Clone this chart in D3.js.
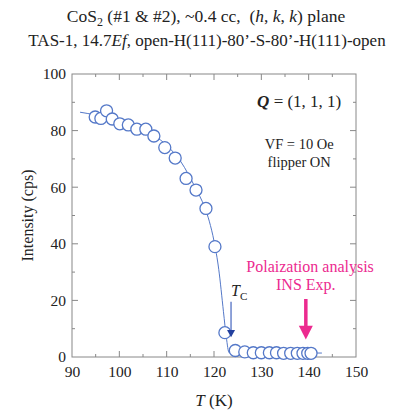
<!DOCTYPE html>
<html>
<head>
<meta charset="utf-8">
<script src="https://cdn.jsdelivr.net/npm/d3@7"></script>
<style>
  body { margin: 0; background: #fff; }
  svg text { font-family: "Liberation Serif", "DejaVu Serif", serif; fill: #222; }
</style>
</head>
<body>
<svg id="chart" width="395" height="412"></svg>
<script>
// measured points: temperature (K) and intensity (cps)
const tempK = [94.9, 96.1, 97.3, 98.5, 100.1, 101.9, 103.7, 105.6, 107.3, 109.6, 111.8, 114.1,
  116.2, 118.3, 120.2, 122.3, 124.5, 126.5, 128.3, 130.0, 131.7, 133.2, 134.7, 136.2, 137.6,
  138.8, 139.8, 140.5];
const intensity = [84.8, 84.3, 87.0, 84.1, 82.4, 82.0, 80.5, 80.5, 78.1, 74.0, 70.3, 63.1,
  59.0, 52.5, 39.0, 8.6, 2.3, 1.8, 1.5, 1.5, 1.5, 1.5, 1.3, 1.3, 1.3, 1.3, 1.3, 1.3];

// guide line
const fitT = [91.7, 95, 100, 105, 110, 113, 116, 118, 119, 120, 121, 122, 122.6, 123.2, 124, 142.8];
const fitI = [86.5, 85.5, 83.3, 80.3, 74.8, 69, 60, 53, 48, 41, 31, 16, 7, 1.5, 1.4, 1.4];

const xTicks = [90, 100, 110, 120, 130, 140, 150];
const yTicks = [0, 20, 40, 60, 80, 100];

const svg = d3.select('#chart');
const margin = { top: 74, right: 39, bottom: 55, left: 72 };
const width = 395 - margin.left - margin.right;
const height = 412 - margin.top - margin.bottom;

const x = d3.scaleLinear().domain([90, 150]).range([0, width]);
const y = d3.scaleLinear().domain([0, 100]).range([height, 0]);

const g = svg.append('g').attr('transform', `translate(${margin.left},${margin.top})`);

// titles
svg.append('text')
  .attr('x', 206).attr('y', 22).attr('text-anchor', 'middle').attr('font-size', 17.5)
  .html('CoS<tspan dy="4" font-size="12">2</tspan><tspan dy="-4"> (#1 &amp; #2), ~0.4 cc,&#160; (</tspan><tspan font-style="italic">h</tspan>, <tspan font-style="italic">k</tspan>, <tspan font-style="italic">k</tspan>) plane');
svg.append('text')
  .attr('x', 207).attr('y', 46).attr('text-anchor', 'middle').attr('font-size', 17)
  .html('TAS-1, 14.7<tspan font-style="italic">Ef</tspan>, open-H(111)-80’-S-80’-H(111)-open');

// frame
g.append('rect')
  .attr('width', width).attr('height', height)
  .attr('fill', 'none').attr('stroke', '#888').attr('stroke-width', 1);

const tickColor = '#888';
// inward ticks on all sides
const addTicks = (vals, len, horizontal) => {
  vals.forEach((v) => {
    if (horizontal) {
      g.append('line').attr('x1', x(v)).attr('x2', x(v)).attr('y1', height).attr('y2', height - len).attr('stroke', tickColor);
      g.append('line').attr('x1', x(v)).attr('x2', x(v)).attr('y1', 0).attr('y2', len).attr('stroke', tickColor);
    } else {
      g.append('line').attr('y1', y(v)).attr('y2', y(v)).attr('x1', 0).attr('x2', len).attr('stroke', tickColor);
      g.append('line').attr('y1', y(v)).attr('y2', y(v)).attr('x1', width).attr('x2', width - len).attr('stroke', tickColor);
    }
  });
};
addTicks(d3.range(95, 150, 10), 3, true);
addTicks(d3.range(100, 150, 10), 6, true);
addTicks(d3.range(10, 100, 20), 3, false);
addTicks(d3.range(20, 100, 20), 6, false);

// tick labels
g.append('g').attr('transform', `translate(0,${height})`)
  .call(d3.axisBottom(x).tickValues(xTicks).tickSize(0).tickPadding(9))
  .call((a) => a.select('.domain').remove())
  .call((a) => a.selectAll('text').attr('font-size', 15.5).attr('font-family', '"Liberation Serif", serif').attr('fill', '#222'));
g.append('g')
  .call(d3.axisLeft(y).tickValues(yTicks).tickSize(0).tickPadding(6))
  .call((a) => a.select('.domain').remove())
  .call((a) => a.selectAll('text').attr('font-size', 15.5).attr('font-family', '"Liberation Serif", serif').attr('fill', '#222'));

// axis titles
svg.append('text')
  .attr('x', margin.left + x(120)).attr('y', 406).attr('text-anchor', 'middle').attr('font-size', 17)
  .html('<tspan font-style="italic">T</tspan> (K)');
svg.append('text')
  .attr('transform', `translate(33,${margin.top + height / 2}) rotate(-90)`)
  .attr('text-anchor', 'middle').attr('font-size', 16)
  .text('Intensity (cps)');

// guide line
const blue = '#5478c8';
const line = d3.line()
  .x((d, i) => x(fitT[i]))
  .y((d, i) => y(fitI[i]))
  .curve(d3.curveMonotoneX);
g.append('path')
  .datum(fitT)
  .attr('d', line)
  .attr('fill', 'none')
  .attr('stroke', blue)
  .attr('stroke-width', 1);

// circles
g.selectAll('.pt')
  .data(tempK)
  .enter()
  .append('circle')
  .attr('class', 'pt')
  .attr('cx', (d) => x(d))
  .attr('cy', (d, i) => y(intensity[i]))
  .attr('r', 6)
  .attr('fill', '#fff')
  .attr('stroke', blue)
  .attr('stroke-width', 1.3);

// Q label and conditions
g.append('text')
  .attr('x', x(138)).attr('y', y(88.5)).attr('text-anchor', 'middle').attr('font-size', 17)
  .html('<tspan font-style="italic" font-weight="bold">Q</tspan> = (1, 1, 1)');
g.append('text')
  .attr('x', x(138)).attr('y', y(73.5)).attr('text-anchor', 'middle').attr('font-size', 14.5)
  .text('VF = 10 Oe');
g.append('text')
  .attr('x', x(138)).attr('y', y(67.2)).attr('text-anchor', 'middle').attr('font-size', 14.5)
  .text('flipper ON');

// Tc arrow
const navy = '#23409e';
g.append('text')
  .attr('x', x(123.6)).attr('y', y(21.5)).attr('font-size', 16)
  .html('<tspan font-style="italic">T</tspan><tspan dy="4" font-size="11">C</tspan>');
g.append('line')
  .attr('x1', x(123.6)).attr('x2', x(123.6))
  .attr('y1', y(19.5)).attr('y2', y(9))
  .attr('stroke', '#6a84cc').attr('stroke-width', 1.5);
g.append('path')
  .attr('d', `M${x(123.6) - 4},${y(9.5)} L${x(123.6) + 4},${y(9.5)} L${x(123.6)},${y(7)} Z`)
  .attr('fill', navy);

// polarization annotation
const pink = '#ec2a8f';
g.append('text')
  .attr('x', x(140.3)).attr('y', y(30.2)).attr('text-anchor', 'middle').attr('font-size', 16)
  .style('fill', pink)
  .text('Polaization analysis');
g.append('text')
  .attr('x', x(139.4)).attr('y', y(23.6)).attr('text-anchor', 'middle').attr('font-size', 16)
  .style('fill', pink)
  .text('INS Exp.');
g.append('line')
  .attr('x1', x(139.4)).attr('x2', x(139.4))
  .attr('y1', y(20.5)).attr('y2', y(10))
  .attr('stroke', pink).attr('stroke-width', 3.5);
g.append('path')
  .attr('d', `M${x(139.4) - 7},${y(11)} L${x(139.4) + 7},${y(11)} L${x(139.4)},${y(6.2)} Z`)
  .attr('fill', pink);
</script>
</body>
</html>
